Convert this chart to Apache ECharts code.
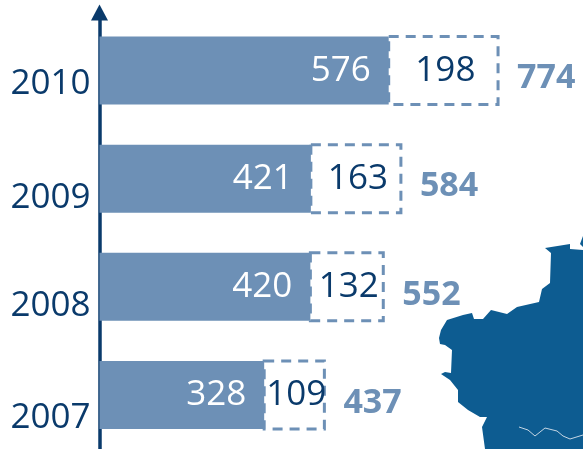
<!DOCTYPE html>
<html>
<head>
<meta charset="utf-8">
<script src="https://cdn.jsdelivr.net/npm/echarts@6/dist/echarts.min.js"></script>
<style>
html,body{margin:0;padding:0;background:#fff;}
#main{width:583px;height:449px;}
</style>
</head>
<body>
<div id="main"></div>
<script>
// data, bottom to top
var years = ['2007', '2008', '2009', '2010'];
var solidValues = [328, 420, 421, 576];
var dashedValues = [109, 132, 163, 198];
var totals = [437, 552, 584, 774];

var barColor = '#6d90b6';
var navy = '#0a3a6b';
var fontName = '"Open Sans"';
// the dashed boxes are drawn a bit wider per unit than the solid bars in the original
var dashScale = 1.1;

var myChart = echarts.init(document.getElementById('main'));

var option = {
    animation: false,
    grid: {left: 99.5, right: 0, top: 16.5, bottom: -2},
    xAxis: {type: 'value', min: 0, max: 963, show: false},
    yAxis: {
        type: 'category',
        data: years,
        axisTick: {show: false},
        axisLine: {
            lineStyle: {color: navy, width: 3.5},
            symbol: ['none', 'triangle'],
            symbolSize: [17, 16],
            symbolOffset: [0, 4]
        },
        axisLabel: {
            margin: 9,
            // years sit lower than the bar centres, more so further down
            formatter: function (value, index) {
                return '{y' + index + '|' + value + '}';
            },
            rich: {
                y0: {color: navy, fontFamily: fontName, fontSize: 35, padding: [46, 0, 0, 0]},
                y1: {color: navy, fontFamily: fontName, fontSize: 35, padding: [38, 0, 0, 0]},
                y2: {color: navy, fontFamily: fontName, fontSize: 35, padding: [38, 0, 0, 0]},
                y3: {color: navy, fontFamily: fontName, fontSize: 35, padding: [26, 0, 0, 0]}
            }
        }
    },
    series: [
        {
            type: 'bar',
            data: solidValues,
            barWidth: 68,
            itemStyle: {color: barColor},
            label: {
                show: true,
                position: 'insideRight',
                distance: 18,
                color: '#fff',
                fontFamily: fontName,
                fontSize: 35
            }
        },
        {
            type: 'custom',
            data: dashedValues.map(function (v, i) { return [solidValues[i], i, v, totals[i]]; }),
            encode: {x: 0, y: 1},
            renderItem: function (params, api) {
                var start = api.coord([api.value(0), api.value(1)]);
                var w = api.size([api.value(2), 0])[0] * dashScale;
                var h = 68;
                return {
                    type: 'group',
                    children: [
                        {
                            type: 'rect',
                            shape: {x: start[0], y: start[1] - h / 2, width: w, height: h},
                            style: {fill: 'none', stroke: barColor, lineWidth: 3, lineDash: [10, 7]}
                        },
                        {
                            type: 'text',
                            style: {
                                x: start[0] + w / 2 + 2,
                                y: start[1],
                                text: String(api.value(2)),
                                align: 'center',
                                verticalAlign: 'middle',
                                fill: navy,
                                font: '35px ' + fontName
                            }
                        },
                        {
                            type: 'text',
                            style: {
                                x: start[0] + w + 19,
                                y: start[1] + 8,
                                text: String(api.value(3)),
                                align: 'left',
                                verticalAlign: 'middle',
                                fill: barColor,
                                font: 'bold 34px ' + fontName
                            }
                        }
                    ]
                };
            }
        }
    ],
    // map outline in the corner, only decoration
    graphic: [
        {
            type: 'polygon',
            silent: true,
            shape: {points: [[545,248],[570,244],[570,249],[583,250],[583,449],[485,449],[482,427],[487,417],[480,417],[468,410],[458,402],[458,390],[450,380],[441,374],[445,372],[451,373],[452,350],[445,345],[440,344],[439,338],[441,330],[447,320],[463,315],[472,313],[474,319],[483,319],[491,310],[507,314],[517,307],[539,302],[542,289],[550,283],[551,253]]},
            style: {fill: '#0d5c91'}
        },
        {
            type: 'polygon',
            silent: true,
            shape: {points: [[580,244],[583,236],[583,247]]},
            style: {fill: '#0d5c91'}
        },
        {
            type: 'polyline',
            silent: true,
            shape: {points: [[519,427],[528,430],[535,436],[545,428],[557,431],[563,436],[570,439],[583,435]]},
            style: {fill: 'none', stroke: '#c5d6e4', lineWidth: 1}
        }
    ]
};
if (option && typeof option === "object") {
    myChart.setOption(option, true);
}
</script>
</body>
</html>
